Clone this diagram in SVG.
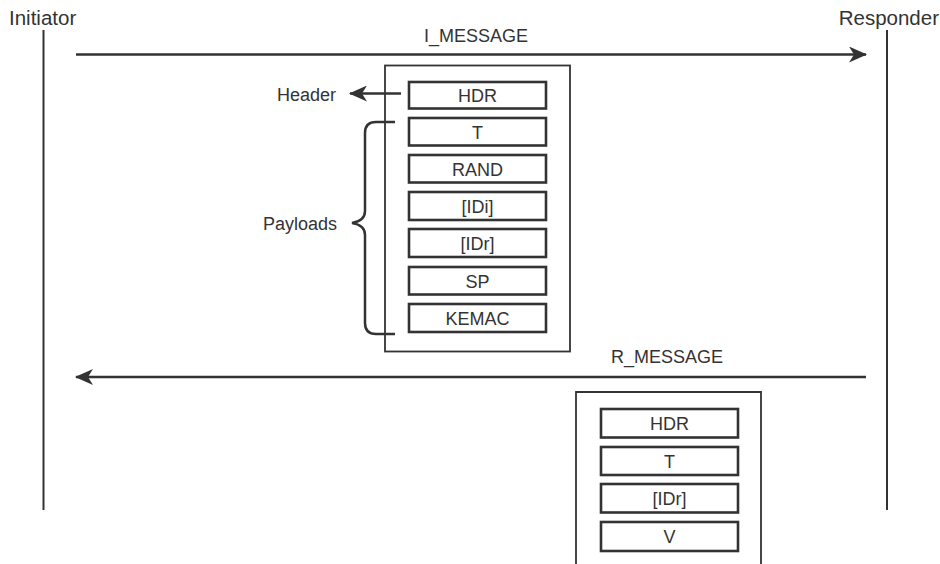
<svg xmlns="http://www.w3.org/2000/svg" width="940" height="564" viewBox="0 0 940 564">
<defs>
<style>
text{font-family:"Liberation Sans",Arial,sans-serif;fill:#333;}
.lbl{font-size:18px;}
.hdr{font-size:20.5px;}
.box{font-size:18px;text-anchor:middle;}
.life{stroke:#333;stroke-width:2;fill:none;}
.msg{stroke:#333;stroke-width:2.5;fill:none;}
.outer{stroke:#333;stroke-width:1.8;fill:none;}
.item{stroke:#333;stroke-width:2.6;fill:#fff;}
</style>
<marker id="ah" viewBox="0 0 18 16" refX="17" refY="8" markerWidth="18" markerHeight="16" markerUnits="userSpaceOnUse" orient="auto">
<path d="M0,0 L18,8 L0,16 L5,8 Z" fill="#333"/>
</marker>
</defs>
<rect width="940" height="564" fill="#fff"/>

<g id="initiator">
<text class="hdr" x="9" y="25">Initiator</text>
<line class="life" x1="43.5" y1="30" x2="43.5" y2="510"/>
</g>
<g id="responder">
<text class="hdr" x="939" y="25" text-anchor="end">Responder</text>
<line class="life" x1="887" y1="30" x2="887" y2="510"/>
</g>

<g id="i_message">
<rect class="outer" x="385" y="65.5" width="185" height="286"/>
<rect class="item" x="409" y="82" width="137" height="26.5"/>
<text class="box" x="477.5" y="102">HDR</text>
<rect class="item" x="409" y="118" width="137" height="27.5"/>
<text class="box" x="477.5" y="138.5">T</text>
<rect class="item" x="409" y="155" width="137" height="27.5"/>
<text class="box" x="477.5" y="175.5">RAND</text>
<rect class="item" x="409" y="192" width="137" height="28"/>
<text class="box" x="477.5" y="212.5">[IDi]</text>
<rect class="item" x="409" y="229" width="137" height="28"/>
<text class="box" x="477.5" y="249.5">[IDr]</text>
<rect class="item" x="409" y="267" width="137" height="27.5"/>
<text class="box" x="477.5" y="287.5">SP</text>
<rect class="item" x="409" y="304" width="137" height="28"/>
<text class="box" x="477.5" y="324.5">KEMAC</text>
</g>

<g id="r_message">
<path class="outer" d="M576,566 V392 H761 V566"/>
<rect class="item" x="601" y="409" width="137" height="28.5"/>
<text class="box" x="669.5" y="430">HDR</text>
<rect class="item" x="601" y="447" width="137" height="28"/>
<text class="box" x="669.5" y="467.5">T</text>
<rect class="item" x="601" y="484" width="137" height="28.5"/>
<text class="box" x="669.5" y="505">[IDr]</text>
<rect class="item" x="601" y="522" width="137" height="29"/>
<text class="box" x="669.5" y="543">V</text>
</g>

<g id="header_label">
<text class="lbl" x="277" y="101">Header</text>
</g>
<g id="payloads_label">
<text class="lbl" x="263" y="230">Payloads</text>
</g>

<g id="connectors">
<line class="msg" x1="76" y1="54.5" x2="866" y2="54.5" marker-end="url(#ah)"/>
<text class="lbl" x="476" y="42" text-anchor="middle">I_MESSAGE</text>
<line class="msg" x1="866" y1="377" x2="76" y2="377" marker-end="url(#ah)"/>
<text class="lbl" x="667" y="363" text-anchor="middle">R_MESSAGE</text>
<line class="msg" x1="401" y1="93.5" x2="350" y2="93.5" marker-end="url(#ah)"/>
<path class="msg" d="M395,122 H376 Q365,122 365,133 V211 Q365,221 352,223 Q365,225 365,235 V323 Q365,334 376,334 H395"/>
</g>
</svg>
